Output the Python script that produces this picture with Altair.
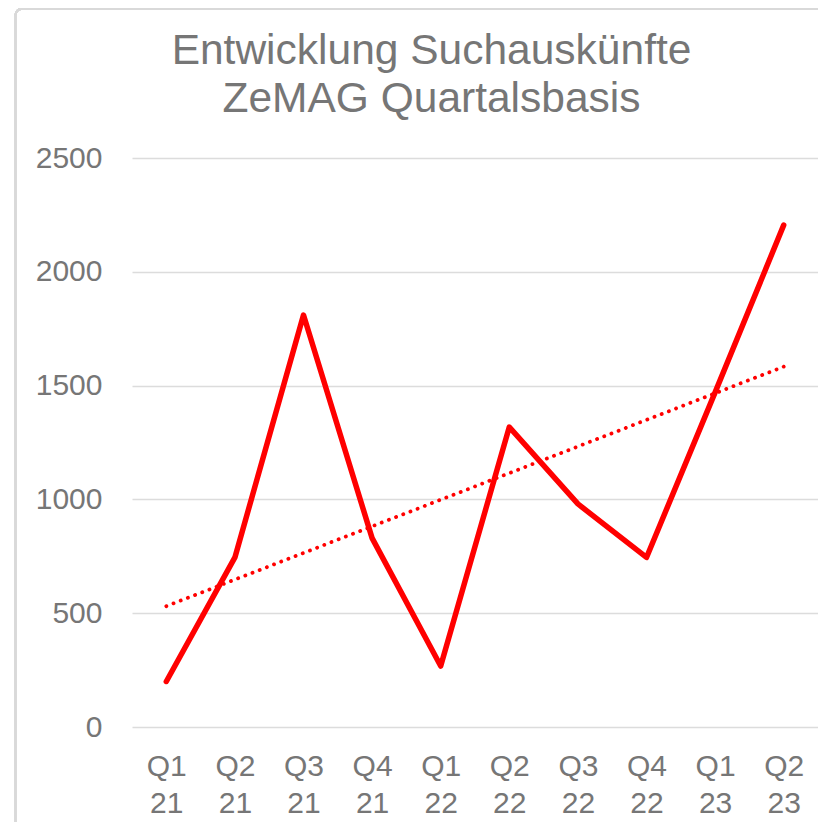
import json
import altair as alt
import pandas as pd

quarters = ["Q1", "Q2", "Q3", "Q4", "Q1", "Q2", "Q3", "Q4", "Q1", "Q2"]
years = ["21", "21", "21", "21", "22", "22", "22", "22", "23", "23"]
values = [200, 745, 1810, 830, 268, 1318, 980, 745, 1470, 2205]
y_ticks = [0, 500, 1000, 1500, 2000, 2500]
title_lines = ["Entwicklung Suchauskünfte", "ZeMAG Quartalsbasis"]

idx = list(range(1, len(values) + 1))
df = pd.DataFrame({"idx": idx, "q": quarters, "yr": years, "value": values})
label_arr = json.dumps([[q, y] for q, y in zip(quarters, years)])

GRAY = "#767676"
RED = "#ff0000"

x = alt.X(
    "idx:Q",
    scale=alt.Scale(domain=[0.5, len(values) + 0.5], nice=False, zero=False),
    axis=alt.Axis(
        values=idx,
        labelExpr=f"{label_arr}[datum.value - 1]",
        grid=False, domain=False, ticks=False,
        labelFontSize=30, labelColor=GRAY, labelFont="Liberation Sans",
        labelPadding=24, labelLineHeight=37, labelBaseline="top",
        labelFlush=False, labelOverlap=False, title=None,
    ),
)
y = alt.Y(
    "value:Q",
    scale=alt.Scale(domain=[0, 2500], nice=False),
    axis=alt.Axis(
        values=y_ticks, format="d", grid=True, gridColor="#dcdcdc", gridWidth=1.6,
        domain=False, ticks=False,
        labelFontSize=30, labelColor=GRAY, labelFont="Liberation Sans",
        labelPadding=30, title=None,
    ),
)

base = alt.Chart(df)

frame = base.mark_rect(
    fill="transparent", stroke="#d9d9d9", strokeWidth=2, cornerRadius=6
).encode(
    x=alt.value(-116.5), x2=alt.value(720),
    y=alt.value(-149), y2=alt.value(700),
)

title = base.mark_text(
    fontSize=42.5, font="Liberation Sans", color=GRAY, lineHeight=48.5,
    align="center", baseline="alphabetic",
).encode(
    x=alt.value(299.5), y=alt.value(-94.5), text=alt.value(title_lines)
).transform_filter("datum.idx == 1")

line = base.mark_line(color=RED, strokeWidth=5.5, strokeJoin="round", strokeCap="round").encode(x=x, y=y)

trend = base.transform_regression("idx", "value", method="linear").mark_line(
    color=RED, strokeWidth=3.8, strokeDash=[0.1, 7.6], strokeCap="round"
).encode(x="idx:Q", y="value:Q")

chart = alt.layer(frame, title, line, trend).properties(
    width=686, height=569,
    autosize=alt.AutoSizeParams(type="none"),
    padding={"left": 124, "top": 150, "right": 0, "bottom": 95},
).configure_view(stroke=None)

chart.save("out.html", embed_options={"renderer": "svg", "actions": False})
